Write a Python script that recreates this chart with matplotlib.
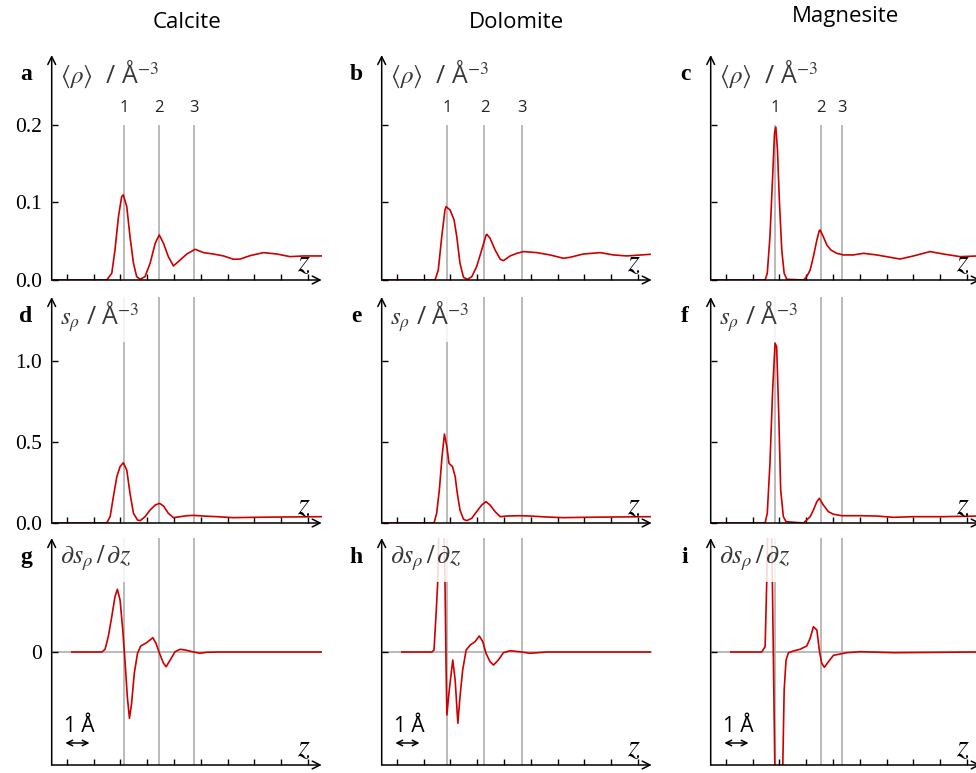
import matplotlib
matplotlib.use("Agg")
import matplotlib.pyplot as plt
from matplotlib.patches import Rectangle

plt.rcParams["mathtext.fontset"] = "stix"
plt.rcParams["font.family"] = ["Open Sans", "DejaVu Sans"]

RED = "#cc0000"
GREY = "#b4b4b4"
LABEL = "#383838"

minerals = ["Calcite", "Dolomite", "Magnesite"]
letters = [["a", "b", "c"], ["d", "e", "f"], ["g", "h", "i"]]
ylabels = [r"$\langle\rho\rangle$  / Å$^{-3}$", r"$s_\rho$ / Å$^{-3}$",
           r"$\partial s_\rho\,/\,\partial z$"]
label_size = [18, 18, 19]

# layer positions (z units) for the three minerals
layers = [[3.14, 4.43, 5.73], [2.87, 4.27, 5.68], [2.84, 4.54, 5.33]]
layer_names = ["1", "2", "3"]

# <rho>, calcite / dolomite / magnesite
z_a = [0.44, 2.49, 2.68, 2.80, 2.93, 3.05, 3.11, 3.24, 3.36, 3.49, 3.61, 3.74, 3.92,
       4.11, 4.30, 4.45, 4.61, 4.79, 4.98, 5.23, 5.48, 5.79, 6.10, 6.47, 6.85, 7.22,
       7.47, 7.84, 8.34, 8.84, 9.33, 9.83, 10.51]
rho_a = [0, 0, 0.0086, 0.0387, 0.0817, 0.1075, 0.1097, 0.0946, 0.0559, 0.0215, 0.0043,
         0.0009, 0.0043, 0.0215, 0.0473, 0.0581, 0.0473, 0.0301, 0.0181, 0.0258, 0.0335,
         0.0396, 0.0353, 0.0335, 0.031, 0.0267, 0.027, 0.0314, 0.0353, 0.0335, 0.0301,
         0.031, 0.031]
z_b = [0.44, 2.43, 2.55, 2.68, 2.80, 2.84, 2.99, 3.14, 3.24, 3.36, 3.49, 3.64, 3.80,
       3.98, 4.17, 4.33, 4.36, 4.48, 4.67, 4.86, 4.98, 5.23, 5.48, 5.73, 6.22, 6.72,
       7.22, 7.47, 7.96, 8.59, 9.08, 9.58, 10.45]
rho_b = [0, 0, 0.0129, 0.0559, 0.0903, 0.0946, 0.0903, 0.0774, 0.0559, 0.0215, 0.0034,
         0.0009, 0.0043, 0.0172, 0.0387, 0.0576, 0.0589, 0.0538, 0.0387, 0.0267, 0.0249,
         0.031, 0.0344, 0.0366, 0.0353, 0.0323, 0.028, 0.0293, 0.0335, 0.0353, 0.0323,
         0.031, 0.0331]
z_c = [0.44, 2.47, 2.55, 2.65, 2.75, 2.82, 2.87, 2.93, 3.00, 3.09, 3.18, 3.28, 3.90,
       4.02, 4.15, 4.27, 4.40, 4.49, 4.52, 4.64, 4.77, 4.92, 5.14, 5.39, 5.76, 6.14,
       6.63, 7.13, 7.50, 8.00, 8.62, 9.12, 9.74, 10.40]
rho_c = [0, 0, 0.0086, 0.0559, 0.1333, 0.1893, 0.197, 0.1677, 0.1032, 0.0387, 0.0086,
         0.0009, 0, 0.0043, 0.0129, 0.0301, 0.0516, 0.0637, 0.0645, 0.0559, 0.0452,
         0.0387, 0.0344, 0.0323, 0.0323, 0.0344, 0.0323, 0.0293, 0.027, 0.031, 0.0366,
         0.0335, 0.0301, 0.031]

# s_rho
z_d = [0.44, 2.49, 2.62, 2.74, 2.87, 2.99, 3.11, 3.24, 3.36, 3.49, 3.64, 3.74, 3.92,
       4.11, 4.30, 4.46, 4.61, 4.79, 4.98, 5.23, 5.48, 5.73, 6.10, 6.60, 7.22, 7.97,
       9.08, 10.51]
s_d = [0, 0, 0.039, 0.162, 0.286, 0.348, 0.372, 0.327, 0.183, 0.06, 0.0185, 0.0144,
       0.039, 0.080, 0.111, 0.1214, 0.105, 0.06, 0.033, 0.039, 0.045, 0.047, 0.043,
       0.039, 0.033, 0.035, 0.037, 0.039]
z_e = [0.44, 2.39, 2.49, 2.59, 2.69, 2.78, 2.87, 2.95, 3.08, 3.18, 3.26, 3.36, 3.49,
       3.61, 3.80, 3.98, 4.17, 4.33, 4.48, 4.67, 4.86, 5.10, 5.60, 5.97, 6.60, 7.22,
       7.96, 9.08, 10.45]
s_e = [0, 0, 0.06, 0.204, 0.409, 0.549, 0.471, 0.368, 0.348, 0.286, 0.183, 0.080,
       0.023, 0.0144, 0.029, 0.07, 0.111, 0.132, 0.111, 0.07, 0.039, 0.043, 0.045,
       0.043, 0.037, 0.033, 0.035, 0.037, 0.039]
z_f = [0.44, 2.47, 2.55, 2.65, 2.75, 2.84, 2.90, 2.98, 3.05, 3.15, 3.25, 3.90, 4.02,
       4.15, 4.27, 4.40, 4.49, 4.64, 4.83, 5.02, 5.33, 6.01, 6.63, 7.26, 8.00, 9.12,
       10.40]
s_f = [0, 0, 0.06, 0.368, 0.821, 1.109, 1.088, 0.656, 0.204, 0.039, 0.008, 0, 0.0185,
       0.039, 0.08, 0.132, 0.152, 0.111, 0.07, 0.054, 0.045, 0.045, 0.043, 0.035,
       0.039, 0.039, 0.043]

# d s_rho / dz (arbitrary units)
z_g = [1.19, 2.31, 2.43, 2.55, 2.68, 2.80, 2.89, 2.99, 3.09, 3.18, 3.26, 3.34, 3.42,
       3.52, 3.64, 3.76, 3.98, 4.21, 4.33, 4.46, 4.61, 4.71, 4.86, 5.04, 5.23, 5.42,
       5.73, 5.97, 6.22, 6.72, 10.51]
ds_g = [0, 0, 0.027, 0.153, 0.353, 0.553, 0.627, 0.52, 0.22, -0.113, -0.447, -0.663,
        -0.513, -0.213, -0.013, 0.06, 0.093, 0.143, 0.087, -0.013, -0.113, -0.147,
        -0.08, 0.003, 0.027, 0.02, 0, -0.013, -0.003, 0, 0]
z_h = [1.19, 2.31, 2.39, 2.47, 2.53, 2.67, 2.80, 2.84, 2.87, 2.96, 3.09, 3.18, 3.28,
       3.36, 3.46, 3.59, 3.74, 3.92, 4.08, 4.21, 4.33, 4.48, 4.61, 4.79, 4.98, 5.23,
       5.66, 5.97, 6.60, 10.45]
ds_h = [0, 0, 0.02, 0.387, 0.703, 2.5, 0.72, -0.113, -0.63, -0.38, -0.08, -0.28,
        -0.713, -0.447, -0.18, 0.02, 0.07, 0.103, 0.16, 0.103, -0.013, -0.097, -0.13,
        -0.08, -0.007, 0.013, 0, -0.013, 0, 0]
z_i = [1.19, 2.34, 2.47, 2.53, 2.65, 2.90, 3.00, 3.13, 3.18, 3.25, 3.34, 3.52, 3.77,
       4.02, 4.15, 4.27, 4.40, 4.49, 4.58, 4.68, 4.83, 5.02, 5.27, 5.51, 6.01, 7.26,
       10.40]
ds_i = [0, 0, 0.053, 0.703, 2.5, -2.5, -2.0, -1.113, -0.38, -0.08, -0.007, 0.01, 0.027,
        0.06, 0.137, 0.253, 0.22, 0.02, -0.113, -0.153, -0.097, -0.033, -0.02, -0.007,
        0.003, -0.007, 0]

curves = [[(z_a, rho_a), (z_b, rho_b), (z_c, rho_c)],
          [(z_d, s_d), (z_e, s_e), (z_f, s_f)],
          [(z_g, ds_g), (z_h, ds_h), (z_i, ds_i)]]

ylims = [(0, 0.29), (0, 1.395), (-1.13, 1.14)]
yticks = [[0, 0.1, 0.2], [0, 0.5, 1.0], [0]]
yticklabels = [["0.0", "0.1", "0.2"], ["0.0", "0.5", "1.0"], ["0"]]
box_bottom = [None, 1.117, 0.70]
box_right = 3.75
xlim = (0.44, 10.51)

W, H = 976, 773
fig = plt.figure(figsize=(W / 100, H / 100), dpi=100)

col_left = [51.7, 381.7, 710.7]
ax_w = 270
row_bottom = [280, 523, 765]
row_top = [55, 297, 538]

for r in range(3):
    for c in range(3):
        ax = fig.add_axes([col_left[c] / W, 1 - row_bottom[r] / H, ax_w / W,
                           (row_bottom[r] - row_top[r]) / H])
        ax.set_xlim(*xlim)
        ax.set_ylim(*ylims[r])
        for s in ax.spines.values():
            s.set_visible(False)
        ax.set_xticks(range(1, 11))
        ax.set_xticklabels([])
        ax.set_yticks(yticks[r])
        if c == 0:
            ax.set_yticklabels(yticklabels[r], fontfamily="Liberation Serif", fontsize=15.5)
        else:
            ax.set_yticklabels([])
        ax.tick_params(direction="in", length=4.5, width=1.0, pad=7, colors="black")

        # axes drawn as arrows
        arr = dict(arrowstyle="->", lw=1.1, color="black", shrinkA=0, shrinkB=0,
                   mutation_scale=14)
        ax.annotate("", xy=(1, 0), xytext=(0, 0), xycoords="axes fraction",
                    arrowprops=arr, zorder=6)
        ax.annotate("", xy=(0, 1), xytext=(0, 0), xycoords="axes fraction",
                    arrowprops=arr, zorder=6)

        # layer guide lines
        ylo, yhi = ylims[r]
        if r == 0:
            ax.vlines(layers[c], 0, 0.2, color=GREY, lw=1.3, zorder=1)
            for x, n in zip(layers[c], layer_names):
                ax.text(x, 0.222, n, ha="center", va="center", fontsize=12,
                        color="#222222")
        else:
            ax.vlines(layers[c], ylo, yhi, color=GREY, lw=1.3, zorder=1)
        if r == 2:
            ax.axhline(0, color=GREY, lw=1.3, zorder=1)

        zz, vv = curves[r][c]
        ax.plot(zz, vv, color=RED, lw=1.2, zorder=2)

        if box_bottom[r] is not None:
            ax.add_patch(Rectangle((xlim[0], box_bottom[r]), box_right - xlim[0],
                                   yhi - box_bottom[r], facecolor="white",
                                   edgecolor="none", alpha=0.85, zorder=3))

        ax.text(0.03, 0.912, ylabels[r], transform=ax.transAxes, ha="left",
                va="center", fontsize=label_size[r], color=LABEL, zorder=4)
        ax.text(-0.095, 0.912, letters[r][c], transform=ax.transAxes, ha="center",
                va="center", fontsize=17, fontweight="bold",
                fontfamily="Liberation Serif", zorder=4)
        ax.text(0.96, 0.01, "$z$", transform=ax.transAxes, ha="right",
                va="bottom", fontsize=22, zorder=4)

        if r == 2:
            ax.text(1.48, -0.75, "1 Å", ha="center", va="center", fontsize=15)
            ax.annotate("", xy=(1.85, -0.91), xytext=(0.95, -0.91),
                        arrowprops=dict(arrowstyle="<->", lw=1.1, color="black",
                                        shrinkA=0, shrinkB=0, mutation_scale=10))

title_base = [28, 28, 22]
for c, name in enumerate(minerals):
    fig.text((col_left[c] + ax_w / 2) / W, 1 - title_base[c] / H, name,
             ha="center", va="baseline", fontsize=16)

fig.savefig("out.png", dpi=100)
